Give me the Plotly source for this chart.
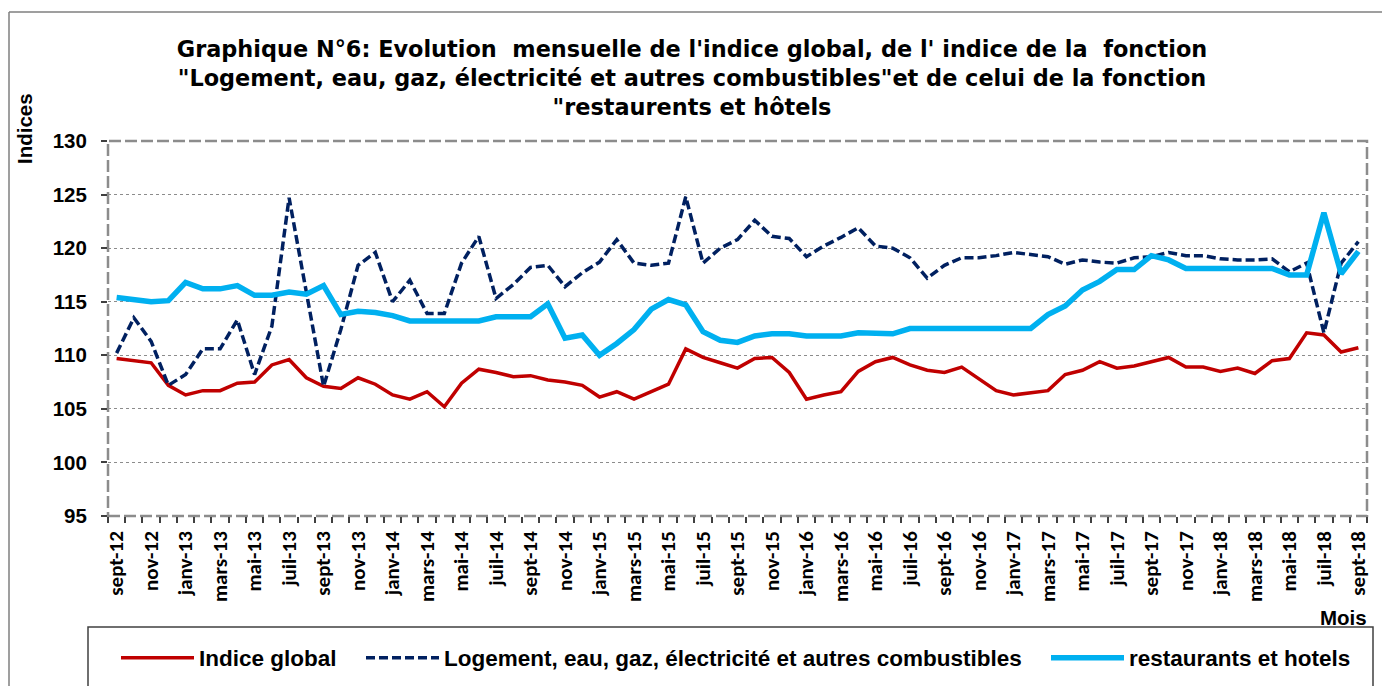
import plotly.graph_objects as go

months = [
    "sept-12", "oct-12", "nov-12", "déc-12",
    "janv-13", "févr-13", "mars-13", "avr-13", "mai-13", "juin-13", "juil-13", "août-13", "sept-13", "oct-13", "nov-13", "déc-13",
    "janv-14", "févr-14", "mars-14", "avr-14", "mai-14", "juin-14", "juil-14", "août-14", "sept-14", "oct-14", "nov-14", "déc-14",
    "janv-15", "févr-15", "mars-15", "avr-15", "mai-15", "juin-15", "juil-15", "août-15", "sept-15", "oct-15", "nov-15", "déc-15",
    "janv-16", "févr-16", "mars-16", "avr-16", "mai-16", "juin-16", "juil-16", "août-16", "sept-16", "oct-16", "nov-16", "déc-16",
    "janv-17", "févr-17", "mars-17", "avr-17", "mai-17", "juin-17", "juil-17", "août-17", "sept-17", "oct-17", "nov-17", "déc-17",
    "janv-18", "févr-18", "mars-18", "avr-18", "mai-18", "juin-18", "juil-18", "août-18", "sept-18",
]

indice_global = [
    109.7, 109.5, 109.3, 107.2, 106.3, 106.7, 106.7, 107.4, 107.5, 109.1,
    109.6, 107.9, 107.1, 106.9, 107.9, 107.3, 106.3, 105.9, 106.6, 105.2,
    107.4, 108.7, 108.4, 108.0, 108.1, 107.7, 107.5, 107.2, 106.1, 106.6,
    105.9, 106.6, 107.3, 110.6, 109.8, 109.3, 108.8, 109.7, 109.8, 108.4,
    105.9, 106.3, 106.6, 108.5, 109.4, 109.8, 109.1, 108.6, 108.4, 108.9,
    107.8, 106.7, 106.3, 106.5, 106.7, 108.2, 108.6, 109.4, 108.8, 109.0,
    109.4, 109.8, 108.9, 108.9, 108.5, 108.8, 108.3, 109.5, 109.7, 112.1,
    111.9, 110.3, 110.7,
]

logement = [
    110.2, 113.5, 111.3, 107.2, 108.2, 110.6, 110.6, 113.3, 108.2, 112.7,
    124.7, 116.1, 107.1, 112.4, 118.4, 119.6, 115.0, 117.0, 113.9, 113.9,
    118.6, 121.1, 115.3, 116.6, 118.2, 118.4, 116.4, 117.7, 118.7, 120.8,
    118.6, 118.4, 118.6, 124.8, 118.6, 120.0, 120.8, 122.6, 121.1, 120.9,
    119.2, 120.2, 121.0, 121.9, 120.2, 120.0, 119.1, 117.2, 118.4, 119.1,
    119.1, 119.3, 119.6, 119.4, 119.2, 118.5, 118.9, 118.7, 118.6, 119.1,
    119.2, 119.6, 119.3, 119.3, 119.0, 118.9, 118.9, 119.0, 117.8, 118.6,
    112.1, 118.6, 120.6,
]

restaurants = [
    115.4, 115.2, 115.0, 115.1, 116.8, 116.2, 116.2, 116.5, 115.6, 115.6,
    115.9, 115.7, 116.5, 113.8, 114.1, 114.0, 113.7, 113.2, 113.2, 113.2,
    113.2, 113.2, 113.6, 113.6, 113.6, 114.8, 111.6, 111.9, 110.0, 111.1,
    112.4, 114.3, 115.2, 114.7, 112.2, 111.4, 111.2, 111.8, 112.0, 112.0,
    111.8, 111.8, 111.8, 112.1, 112.1, 112.0, 112.5, 112.5, 112.5, 112.5,
    112.5, 112.5, 112.5, 112.5, 113.8, 114.6, 116.1, 116.9, 118.0, 118.0,
    119.3, 118.9, 118.1, 118.1, 118.1, 118.1, 118.1, 118.1, 117.5, 117.5,
    123.3, 117.6, 119.7,
]

series_names = [
    "Indice global",
    "Logement, eau, gaz, électricité et autres combustibles",
    "restaurants et hotels",
]

title_text = ("Graphique N°6: Evolution  mensuelle de l'indice global, de l' indice de la  fonction<br>"
              "\"Logement, eau, gaz, électricité et autres combustibles\"et de celui de la fonction<br>"
              "\"restaurents et hôtels")

x = list(range(len(months)))

# the page body has an 8px margin: the figure starts at page (8, 8)
OFF = 8
W, H = 1390 - OFF, 686 - OFF
L, R, T, B = 100, 23, 133, 170
pw, ph = W - L - R, H - T - B


def px(xpage):
    return (xpage - OFF - L) / pw


def py(ypage):
    return (H - B - (ypage - OFF)) / ph


ARIAL = "Liberation Sans, Arial, sans-serif"
WIDE = "DejaVu Sans, Verdana, sans-serif"
LEG_FONT = dict(family=ARIAL, size=22.5, color="black", weight="bold")

fig = go.Figure()
fig.add_trace(go.Scatter(x=x, y=indice_global, name=series_names[0], mode="lines",
                         line=dict(color="#C00000", width=3.5), legend="legend"))
fig.add_trace(go.Scatter(x=x, y=logement, name=series_names[1], mode="lines",
                         line=dict(color="#002060", width=3.5, dash="9px,4px"), legend="legend2"))
fig.add_trace(go.Scatter(x=x, y=restaurants, name=series_names[2], mode="lines",
                         line=dict(color="#00B0F0", width=5.5), legend="legend3"))


def leg(xpage):
    return dict(orientation="h", x=px(xpage), xanchor="left", y=py(658), yanchor="middle",
                font=LEG_FONT, bgcolor="rgba(0,0,0,0)", itemwidth=73)


fig.update_layout(
    width=W, height=H,
    margin=dict(l=L, r=R, t=T, b=B, autoexpand=False),
    paper_bgcolor="white", plot_bgcolor="white",
    title=dict(text=title_text, x=(692 - OFF) / W, xanchor="center", xref="container",
               y=1 - 49 / H, yanchor="middle", yref="container",
               font=dict(family=WIDE, size=22.4, color="black", weight="bold")),
    showlegend=True,
    legend=leg(116),
    legend2=leg(361),
    legend3=leg(1046),
    xaxis=dict(range=[-0.5, len(months) - 0.5], tickmode="array",
               tickvals=x[::2], ticktext=months[::2], tickangle=-90,
               ticks="", ticklabelstandoff=10, showgrid=False, zeroline=False, showline=False,
               tickfont=dict(family="Carlito, Lato, sans-serif", size=21, color="black", weight="bold"),
               minor=dict(tick0=-0.5, dtick=1, ticks="outside", ticklen=6, tickcolor="#404040",
                          tickwidth=1.5, showgrid=False)),
    yaxis=dict(range=[95, 130], dtick=5, ticks="outside", ticklen=6, tickcolor="#404040", tickwidth=1.5,
               ticklabelstandoff=10,
               showgrid=True, gridcolor="#8c8c8c", griddash="dot", gridwidth=1,
               zeroline=False, showline=False,
               tickfont=dict(family=ARIAL, size=20.5, color="black", weight="bold")),
)

# plot-area frame (dashed grey)
fig.add_shape(type="rect", xref="paper", yref="paper", x0=0, x1=1, y0=0, y1=1,
              line=dict(color="#8c8c8c", width=2.5, dash="12px,4px"), layer="between")
# legend frame
fig.add_shape(type="rect", xref="paper", yref="paper", x0=px(88), x1=px(1373), y0=py(700), y1=py(627),
              line=dict(color="#404040", width=1.5))
# outer chart frame (left and top edges)
fig.add_shape(type="line", xref="paper", yref="paper", x0=px(9), x1=px(9), y0=py(690), y1=py(12),
              line=dict(color="#7f7f7f", width=1.5))
fig.add_shape(type="line", xref="paper", yref="paper", x0=px(9), x1=px(1392), y0=py(12), y1=py(12),
              line=dict(color="#7f7f7f", width=1.5))

fig.add_annotation(text="Indices", xref="paper", yref="paper", x=px(25), y=py(129),
                   xanchor="center", yanchor="middle", textangle=-90, showarrow=False,
                   font=dict(family=ARIAL, size=20.5, color="black", weight="bold"))
fig.add_annotation(text="Mois", xref="paper", yref="paper", x=px(1369), y=py(617),
                   xanchor="right", yanchor="middle", showarrow=False,
                   font=dict(family=ARIAL, size=20.5, color="black", weight="bold"))

fig.write_html("out.html")
